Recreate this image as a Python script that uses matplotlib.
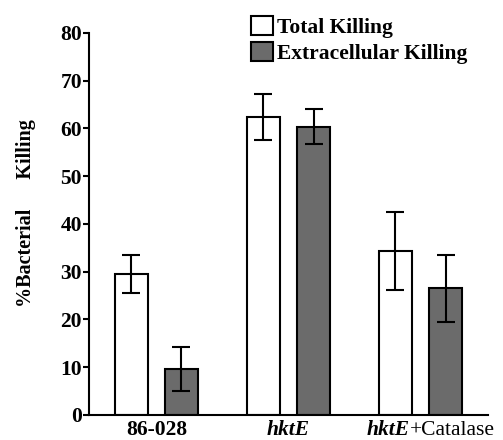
import numpy as np
import matplotlib
matplotlib.use("Agg")
import matplotlib.pyplot as plt

# data
groups = ["86-028", "hktE", "hktE+Catalase"]
total_killing = [29.5, 62.4, 34.3]
total_err = [4.0, 4.8, 8.2]
extra_killing = [9.7, 60.4, 26.5]
extra_err = [4.6, 3.7, 7.1]
yticks = [0, 10, 20, 30, 40, 50, 60, 70, 80]

plt.rcParams["font.family"] = "Liberation Serif"
plt.rcParams["font.weight"] = "bold"

fig = plt.figure(figsize=(5.03, 4.40), dpi=100)
ax = fig.add_axes([0.177, 0.057, 0.793, 0.868])

x = np.arange(len(groups))
w = 0.25
off = 0.19
ekw = dict(elinewidth=1.5, capthick=1.5, ecolor="black")
ax.bar(x - off, total_killing, w, color="white", edgecolor="black", linewidth=1.5,
       yerr=total_err, capsize=6.5, error_kw=ekw, label="Total Killing")
ax.bar(x + off, extra_killing, w, color="#6b6b6b", edgecolor="black", linewidth=1.5,
       yerr=extra_err, capsize=6.5, error_kw=ekw, label="Extracellular Killing")

ax.set_xlim(-0.51, 2.51)
ax.set_ylim(0, 80)
ax.set_yticks(yticks)
ax.tick_params(axis="y", direction="out", length=4, width=1.5, labelsize=15.5, pad=1)
ax.tick_params(axis="x", length=0, pad=4)
for s in ["top", "right"]:
    ax.spines[s].set_visible(False)
for s in ["left", "bottom"]:
    ax.spines[s].set_linewidth(1.5)
for lab in ax.get_yticklabels():
    lab.set_fontweight("bold")

# x labels: strain names in bold italic
ax.set_xticks(x)
ax.set_xticklabels(["", "", ""])
tr = ax.get_xaxis_transform()
ax.text(x[0], -0.012, groups[0], transform=tr, ha="center", va="top",
        fontsize=15.5, fontweight="bold")
ax.text(x[1], -0.012, groups[1], transform=tr, ha="center", va="top",
        fontsize=15.5, fontweight="bold", style="italic")
t1 = ax.text(x[2] - 0.41, -0.012, "hktE", transform=tr, ha="left", va="top",
             fontsize=15.5, fontweight="bold", style="italic")
ax.annotate("+Catalase", xy=(1, 0), xycoords=t1, ha="left", va="bottom",
            fontsize=15.5, fontweight="normal")

fig.text(0.052, 1 - 213 / 440, "%Bacterial      Killing", rotation=90,
         ha="center", va="center", fontsize=14.5, fontweight="bold")

ax.legend(loc="upper left", bbox_to_anchor=(251 / 503, 1 - 16 / 440),
          bbox_transform=fig.transFigure, frameon=False,
          handlelength=1.0, handleheight=0.95, handletextpad=0.2,
          labelspacing=0.2, borderpad=0, borderaxespad=0,
          prop={"weight": "bold", "size": 15.5})

fig.savefig("out.png", dpi=100)
